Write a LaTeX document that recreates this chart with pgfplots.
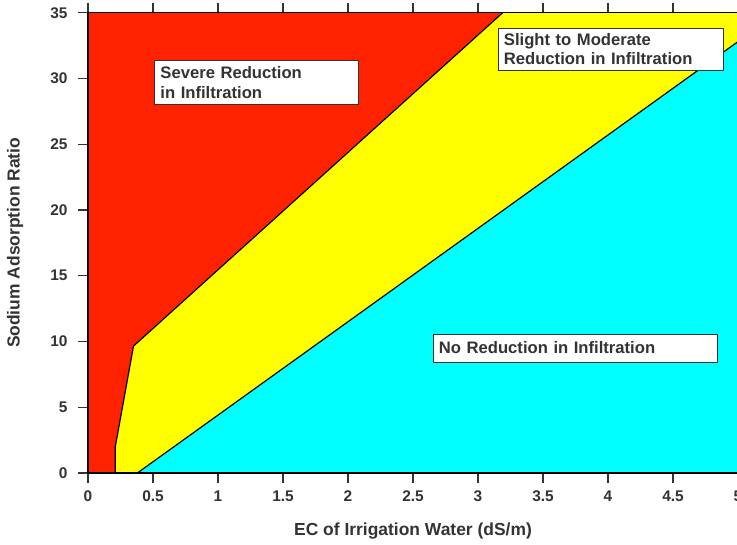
\documentclass[border=0pt]{standalone}
\usepackage{pgfplots}
\pgfplotsset{compat=1.18}
\usepackage{fontspec}
\setmainfont{Liberation Sans}
\usetikzlibrary{calc}

\definecolor{sevred}{RGB}{255,34,0}
\definecolor{slyel}{RGB}{255,255,0}
\definecolor{nocyan}{RGB}{0,255,255}
\definecolor{tickgray}{RGB}{51,51,51}

\begin{document}
\begin{tikzpicture}
\begin{axis}[
    name=ax,
    scale only axis,
    width=650bp, height=460.3bp,
    xmin=0, xmax=5, ymin=0, ymax=35,
    xtick={0,0.5,...,5}, ytick={0,5,...,35},
    xticklabels={0,0.5,1,1.5,2,2.5,3,3.5,4,4.5,5},
    tick align=outside,
    major tick length=10bp,
    tick style={tickgray, line width=1.4bp},
    axis line style={black, line width=1.3bp},
    ticklabel style={font=\fontsize{15.5}{17}\selectfont\bfseries, text=tickgray},
    xticklabel style={yshift=-4bp},
    yticklabel style={xshift=-7bp},
    /pgf/number format/assume math mode=true,
    xlabel={EC of Irrigation Water (dS/m)},
    ylabel={Sodium Adsorption Ratio},
    every axis x label/.style={at={(axis description cs:0.5,0)}, yshift=-58bp, anchor=center,
        font=\fontsize{17.5}{19}\selectfont\bfseries, text=tickgray},
    every axis y label/.style={at={(axis description cs:0,0.5)}, xshift=-73bp, rotate=90, anchor=center,
        font=\fontsize{17.5}{19}\selectfont\bfseries, text=tickgray},
    axis on top,
]
% severe reduction
\addplot[fill=sevred, draw=none] coordinates {(0,0) (0.21,0) (0.21,2) (0.35,9.65) (3.19,35) (0,35)} -- cycle;
% slight to moderate
\addplot[fill=slyel, draw=none] coordinates {(0.21,0) (0.38,0) (5,32.8) (5,35) (3.19,35) (0.35,9.65) (0.21,2)} -- cycle;
% no reduction
\addplot[fill=nocyan, draw=none] coordinates {(0.38,0) (5,0) (5,32.8)} -- cycle;
% boundaries
\addplot[black, line width=1.2bp] coordinates {(0.21,0) (0.21,2) (0.35,9.65) (3.19,35)};
\addplot[black, line width=1.2bp] coordinates {(0.38,0) (5,32.8)};

\node[draw=tickgray, line width=0.8bp, fill=white, anchor=north west, align=left,
      text width=192bp, minimum height=44bp, inner xsep=6bp, inner ysep=2bp,
      font=\fontsize{16.7}{20}\selectfont\bfseries, text=tickgray]
  at (axis cs:0.508,31.4) {Severe Reduction\\in Infiltration};
\node[draw=tickgray, line width=0.8bp, fill=white, anchor=north west, align=left,
      text width=213bp, minimum height=42bp, inner xsep=6bp, inner ysep=2bp,
      font=\fontsize{16.7}{19}\selectfont\bfseries, text=tickgray]
  at (axis cs:3.15,33.85) {Slight to Moderate\\Reduction in Infiltration};
\node[draw=tickgray, line width=0.8bp, fill=white, anchor=north west, align=left,
      text width=272bp, minimum height=28bp, inner xsep=6bp, inner ysep=2bp,
      font=\fontsize{16.7}{19}\selectfont\bfseries, text=tickgray]
  at (axis cs:2.65,10.6) {No Reduction in Infiltration};
\end{axis}
\pgfresetboundingbox
\path ($(ax.south west)+(-88bp,-72bp)$) rectangle ($(ax.north east)+(-1bp,12.7bp)$);
\end{tikzpicture}
\end{document}
